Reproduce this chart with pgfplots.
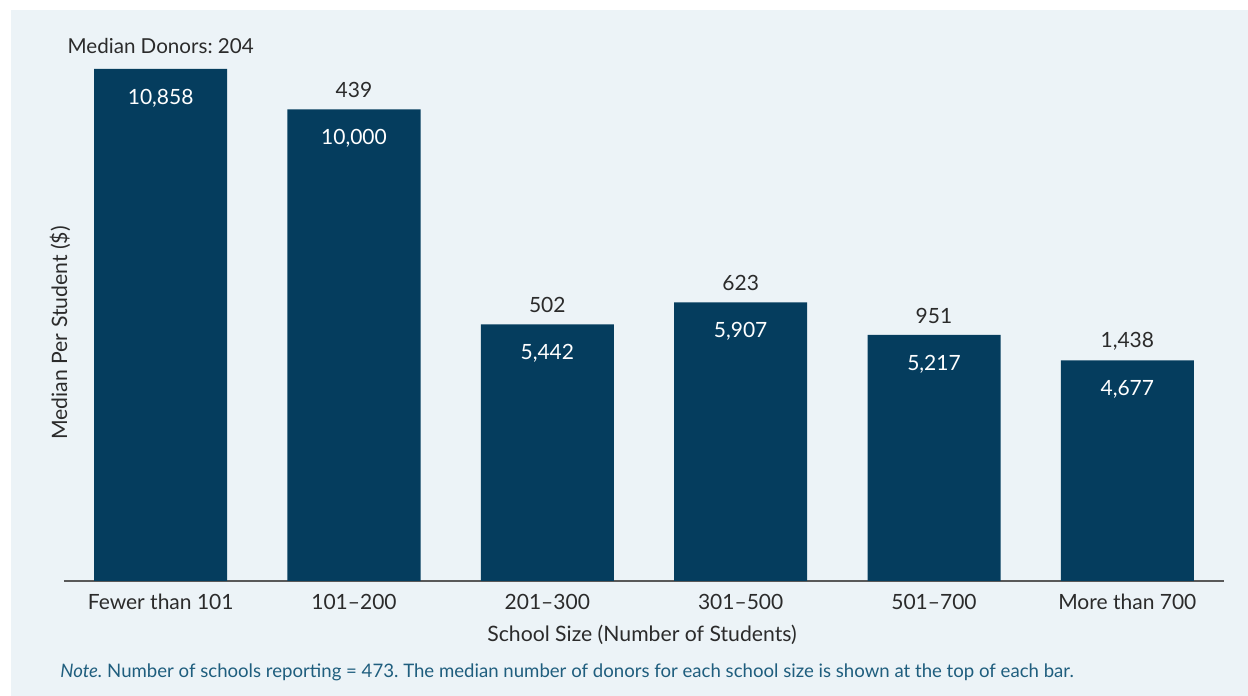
\documentclass[border=0pt]{standalone}
\usepackage{fontspec}
\setmainfont{Lato}
\usepackage{pgfplots}
\pgfplotsset{compat=1.18}
\frenchspacing
\definecolor{barc}{HTML}{053D5E}
\definecolor{panel}{HTML}{ECF3F7}
\definecolor{txt}{HTML}{2B2B2B}
\definecolor{notec}{HTML}{1F5E7E}
\begin{document}
\begin{tikzpicture}
\useasboundingbox (0pt,0pt) rectangle (624pt,348pt);
\fill[white] (0pt,0pt) rectangle (624pt,348pt);
\fill[panel] (5.5pt,0pt) rectangle (624pt,343pt);
\begin{axis}[
 at={(32pt,57.5pt)}, anchor=south west,
 width=580pt, height=259.35pt, scale only axis,
 xmin=-0.5, xmax=5.5, ymin=0, ymax=11000,
 clip=false,
 axis x line=bottom, axis y line=none,
 axis line style={-, draw=black!65, line width=0.7pt},
 xtick={0,...,5},
 xticklabels={Fewer than 101, 101–200, 201–300, 301–500, 501–700, More than 700},
 major tick length=0pt,
 ytick=\empty,
 xticklabel style={font=\fontsize{10.5}{12.5}\selectfont, text=txt, anchor=center, yshift=-10.5pt},
 /pgf/number format/.cd, 1000 sep={,}, assume math mode=true,
]
\addplot[ybar, bar width=66.5pt, fill=barc, draw=none] coordinates {(0,10858) (1,10000) (2,5442) (3,5907) (4,5217) (5,4677)};
\addplot[draw=none, mark=none, nodes near coords, nodes near coords align={center},
  every node near coord/.append style={anchor=center, yshift=-14.5pt, text=white, font=\fontsize{10.5}{12.5}\selectfont}]
  coordinates {(0,10858) (1,10000) (2,5442) (3,5907) (4,5217) (5,4677)};
\addplot[draw=none, mark=none, point meta=explicit symbolic, nodes near coords, nodes near coords align={center},
  every node near coord/.append style={anchor=center, yshift=9.5pt, text=txt, font=\fontsize{10.5}{12.5}\selectfont}]
  coordinates {(1,10000) [439] (2,5442) [502] (3,5907) [623] (4,5217) [951] (5,4677) [1,438]};
\addplot[draw=none, mark=none, point meta=explicit symbolic, nodes near coords, nodes near coords align={center},
  every node near coord/.append style={anchor=center, yshift=11.5pt, text=txt, font=\fontsize{10.3}{12.5}\selectfont}]
  coordinates {(0,10858) [Median Donors: 204]};
\end{axis}
\node[text=txt, font=\fontsize{10.6}{12.5}\selectfont] at (321pt,30.5pt) {School Size (Number of Students)};
\node[text=txt, font=\fontsize{10.6}{12.5}\selectfont, rotate=90] at (30pt,181.5pt) {Median Per Student (\$)};
\node[anchor=base west, text=notec, font=\fontsize{9.3}{11}\selectfont, inner sep=0pt] at (30pt,9pt) {\textit{Note.} Number of schools reporting = 473. The median number of donors for each school size is shown at the top of each bar.};
\end{tikzpicture}
\end{document}
